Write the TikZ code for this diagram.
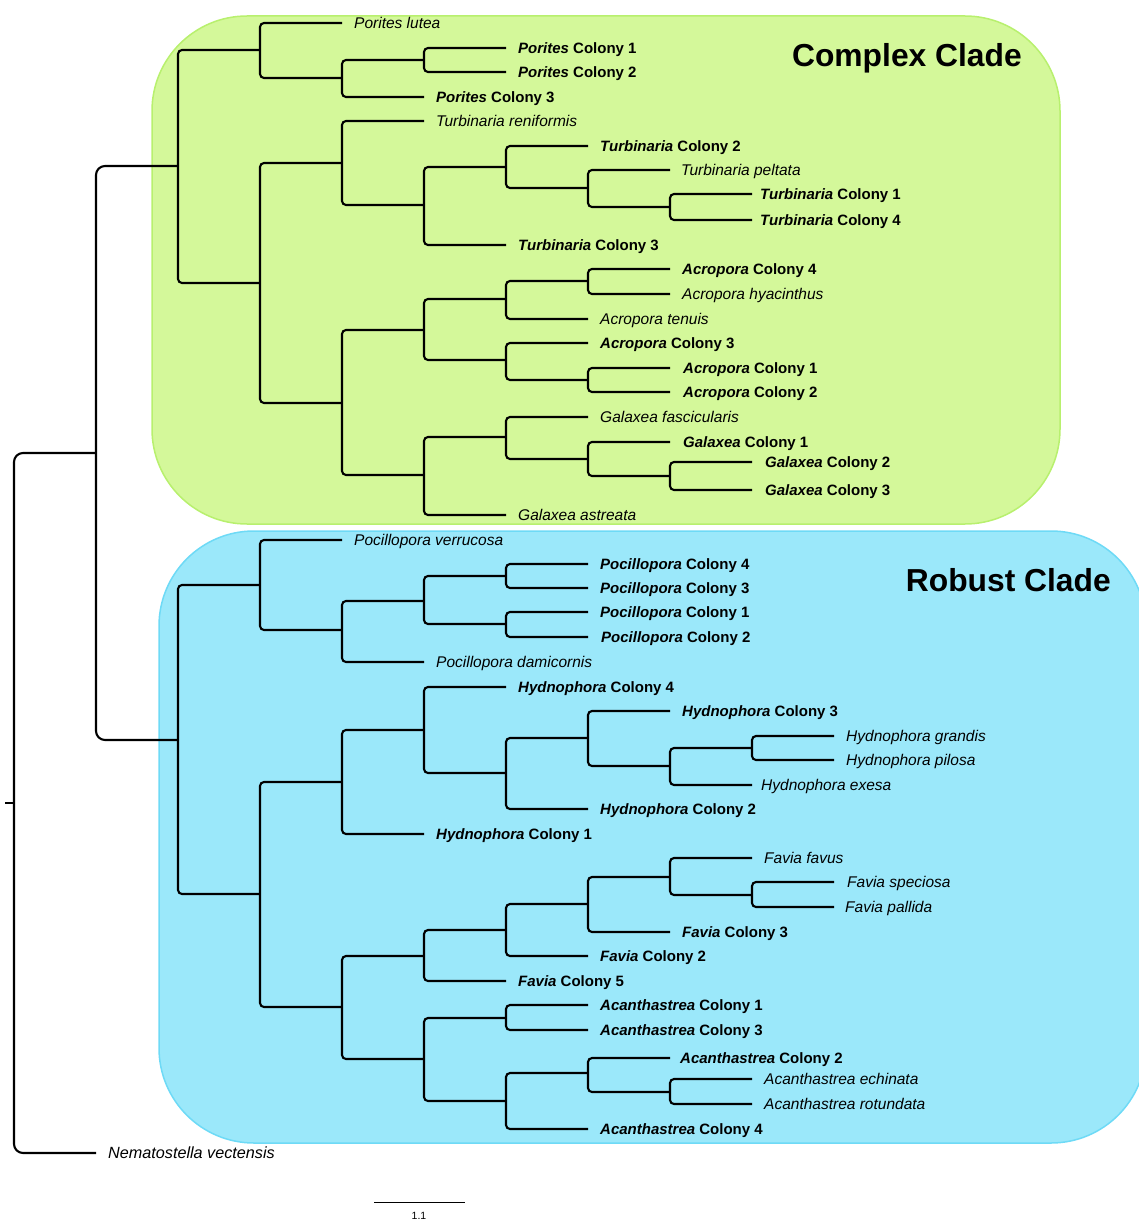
\documentclass[tikz,border=0pt]{standalone}
\usepackage{fontspec}
\setmainfont{Liberation Sans}
\usetikzlibrary{calc}
\definecolor{cgreen}{RGB}{212,248,154}
\definecolor{cgreenb}{RGB}{184,240,110}
\definecolor{cblue}{RGB}{155,232,250}
\definecolor{cblueb}{RGB}{110,218,246}
\tikzset{
  br/.style={line width=2.1pt, rounded corners=4pt},
  brroot/.style={line width=2.1pt, rounded corners=9pt},
  lab/.style={anchor=west, inner sep=0pt, text height=11pt, text depth=0pt, font=\fontsize{15}{18}\selectfont},
  ilab/.style={lab, font=\fontsize{15.5}{18}\selectfont\itshape},
  ttl/.style={anchor=base east, inner sep=0pt, font=\bfseries\fontsize{31.8}{36}\selectfont},
  cladebox/.style={line width=1.5pt, rounded corners=95pt},
}
% leaf with bold label: name, end x, y, label x, text
\newcommand\phyleaf[5]{\coordinate (#1) at (#2,#3); \node[lab] (#1-t) at (#4,#3) {#5};}
% leaf with italic label
\newcommand\phyileaf[6][ilab]{\coordinate (#2) at (#3,#4); \node[#1] (#2-t) at (#5,#4) {#6};}
% clade: name, x, y, top child, bottom child
\newcommand\phyclade[6][br]{\coordinate (#2) at (#3,#4); \draw[#1] (#5) -- (#2 |- #5) -- (#2 |- #6) -- (#6);}
\newcommand\bi[2]{\textbf{\textit{#1} Colony #2}}
\begin{document}
\begin{tikzpicture}[x=1pt,y=-1pt]
\path[use as bounding box] (0,0) rectangle (1138,1222);
% clade backgrounds
\draw[cladebox, fill=cgreen, draw=cgreenb] (152,16) rectangle (1060,524);
\draw[cladebox, fill=cblue, draw=cblueb] (159,531) rectangle (1146,1143);
\node[ttl] (tcx) at (1022,67) {Complex Clade};
\node[ttl] (trb) at (1111,591) {Robust Clade};

% ---------- Complex clade leaves ----------
\phyileaf{lPL}{342}{23}{354}{Porites lutea}
\phyleaf{lPC1}{506}{48}{518}{\bi{Porites}{1}}
\phyleaf{lPC2}{506}{72}{518}{\bi{Porites}{2}}
\phyleaf{lPC3}{424}{97}{436}{\bi{Porites}{3}}
\phyileaf{lTren}{424}{121}{436}{Turbinaria reniformis}
\phyleaf{lTC2}{588}{146}{600}{\bi{Turbinaria}{2}}
\phyileaf{lTpel}{670}{170}{681}{Turbinaria peltata}
\phyleaf{lTC1}{752}{194}{760}{\bi{Turbinaria}{1}}
\phyleaf{lTC4}{752}{220}{760}{\bi{Turbinaria}{4}}
\phyleaf{lTC3}{506}{245}{518}{\bi{Turbinaria}{3}}
\phyleaf{lAC4}{670}{269}{682}{\bi{Acropora}{4}}
\phyileaf{lAhy}{670}{294}{682}{Acropora hyacinthus}
\phyileaf{lAten}{588}{319}{600}{Acropora tenuis}
\phyleaf{lAC3}{588}{343}{600}{\bi{Acropora}{3}}
\phyleaf{lAC1}{670}{368}{683}{\bi{Acropora}{1}}
\phyleaf{lAC2}{670}{392}{683}{\bi{Acropora}{2}}
\phyileaf{lGfa}{588}{417}{600}{Galaxea fascicularis}
\phyleaf{lGC1}{670}{442}{683}{\bi{Galaxea}{1}}
\phyleaf{lGC2}{752}{462}{765}{\bi{Galaxea}{2}}
\phyleaf{lGC3}{752}{490}{765}{\bi{Galaxea}{3}}
\phyileaf{lGas}{506}{515}{518}{Galaxea astreata}

% ---------- Complex clade internal nodes ----------
\phyclade{nPor12}{424}{60}{lPC1}{lPC2}
\phyclade{nPorA}{342}{78}{nPor12}{lPC3}
\phyclade{nPor}{260}{50}{lPL}{nPorA}
\phyclade{nT14}{670}{207}{lTC1}{lTC4}
\phyclade{nTpel}{588}{188}{lTpel}{nT14}
\phyclade{nTC2}{506}{167}{lTC2}{nTpel}
\phyclade{nTC3}{424}{205}{nTC2}{lTC3}
\phyclade{nTur}{342}{163}{lTren}{nTC3}
\phyclade{nA4h}{588}{281}{lAC4}{lAhy}
\phyclade{nAt}{506}{299}{nA4h}{lAten}
\phyclade{nA12}{588}{380}{lAC1}{lAC2}
\phyclade{nA3}{506}{360}{lAC3}{nA12}
\phyclade{nAcr}{424}{330}{nAt}{nA3}
\phyclade{nG23}{670}{476}{lGC2}{lGC3}
\phyclade{nG1}{588}{459}{lGC1}{nG23}
\phyclade{nGf}{506}{437}{lGfa}{nG1}
\phyclade{nGal}{424}{475}{nGf}{lGas}
\phyclade{nAG}{342}{403}{nAcr}{nGal}
\phyclade{nCx2}{260}{283}{nTur}{nAG}
\phyclade{nCx}{178}{166}{nPor}{nCx2}

% ---------- Robust clade leaves ----------
\phyileaf{lPver}{342}{540}{354}{Pocillopora verrucosa}
\phyleaf{lPo4}{588}{564}{600}{\bi{Pocillopora}{4}}
\phyleaf{lPo3}{588}{588}{600}{\bi{Pocillopora}{3}}
\phyleaf{lPo1}{588}{612}{600}{\bi{Pocillopora}{1}}
\phyleaf{lPo2}{588}{637}{601}{\bi{Pocillopora}{2}}
\phyileaf{lPdam}{424}{662}{436}{Pocillopora damicornis}
\phyleaf{lHC4}{506}{687}{518}{\bi{Hydnophora}{4}}
\phyleaf{lHC3}{670}{711}{682}{\bi{Hydnophora}{3}}
\phyileaf{lHgr}{834}{736}{846}{Hydnophora grandis}
\phyileaf{lHpi}{834}{760}{846}{Hydnophora pilosa}
\phyileaf{lHex}{752}{785}{761}{Hydnophora exesa}
\phyleaf{lHC2}{588}{809}{600}{\bi{Hydnophora}{2}}
\phyleaf{lHC1}{424}{834}{436}{\bi{Hydnophora}{1}}
\phyileaf{lFfa}{752}{858}{764}{Favia favus}
\phyileaf{lFsp}{834}{882}{847}{Favia speciosa}
\phyileaf{lFpa}{834}{907}{845}{Favia pallida}
\phyleaf{lFC3}{670}{932}{682}{\bi{Favia}{3}}
\phyleaf{lFC2}{588}{956}{600}{\bi{Favia}{2}}
\phyleaf{lFC5}{506}{981}{518}{\bi{Favia}{5}}
\phyleaf{lAcC1}{588}{1005}{600}{\bi{Acanthastrea}{1}}
\phyleaf{lAcC3}{588}{1030}{600}{\bi{Acanthastrea}{3}}
\phyleaf{lAcC2}{670}{1058}{680}{\bi{Acanthastrea}{2}}
\phyileaf{lAcE}{752}{1079}{764}{Acanthastrea echinata}
\phyileaf{lAcR}{752}{1104}{764}{Acanthastrea rotundata}
\phyleaf{lAcC4}{588}{1129}{600}{\bi{Acanthastrea}{4}}
\phyileaf[ilab, font=\fontsize{16.2}{18}\selectfont\itshape]{lNem}{96}{1153}{108}{Nematostella vectensis}

% ---------- Robust clade internal nodes ----------
\phyclade{nP43}{506}{576}{lPo4}{lPo3}
\phyclade{nP12}{506}{624}{lPo1}{lPo2}
\phyclade{nP4}{424}{601}{nP43}{nP12}
\phyclade{nPd}{342}{630}{nP4}{lPdam}
\phyclade{nPoc}{260}{585}{lPver}{nPd}
\phyclade{nHgp}{752}{748}{lHgr}{lHpi}
\phyclade{nHex}{670}{766}{nHgp}{lHex}
\phyclade{nH3}{588}{738}{lHC3}{nHex}
\phyclade{nH2}{506}{773}{nH3}{lHC2}
\phyclade{nH4}{424}{730}{lHC4}{nH2}
\phyclade{nHyd}{342}{782}{nH4}{lHC1}
\phyclade{nFsp}{752}{895}{lFsp}{lFpa}
\phyclade{nFfa}{670}{877}{lFfa}{nFsp}
\phyclade{nF3}{588}{904}{nFfa}{lFC3}
\phyclade{nF2}{506}{930}{nF3}{lFC2}
\phyclade{nF5}{424}{956}{nF2}{lFC5}
\phyclade{nAc13}{506}{1018}{lAcC1}{lAcC3}
\phyclade{nAcer}{670}{1092}{lAcE}{lAcR}
\phyclade{nAc2}{588}{1073}{lAcC2}{nAcer}
\phyclade{nAc4}{506}{1101}{nAc2}{lAcC4}
\phyclade{nAca}{424}{1059}{nAc13}{nAc4}
\phyclade{nFA}{342}{1007}{nF5}{nAca}
\phyclade{nRb2}{260}{894}{nHyd}{nFA}
\phyclade{nRb}{178}{740}{nPoc}{nRb2}

% ---------- deep nodes ----------
\phyclade[brroot]{nIn}{96}{453}{nCx}{nRb}
\phyclade[brroot]{nRoot}{14}{803}{nIn}{lNem}
\coordinate (tick) at (5,803);
\draw[line width=2.1pt] (tick) -- (nRoot);

% ---------- scale bar ----------
\coordinate (sb1) at (374,1202);
\coordinate (sb2) at (465,1202);
\draw[line width=0.9pt] (sb1) -- (sb2);
\node[inner sep=0pt, font=\fontsize{10.5}{12}\selectfont] (sbl) at (419,1216) {1.1};
\end{tikzpicture}
\end{document}
